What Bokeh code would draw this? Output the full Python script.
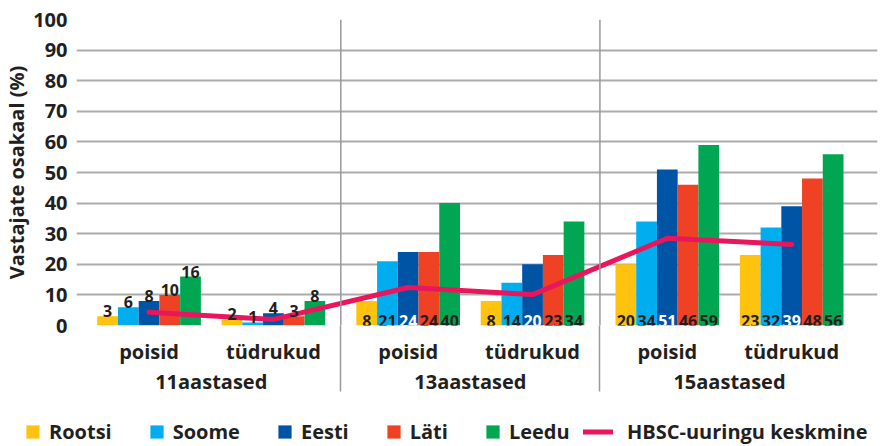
from bokeh.plotting import figure
from bokeh.models import (Range1d, FixedTicker, LinearAxis, Span, ColumnDataSource,
                          Legend, LegendItem)
from bokeh.layouts import column, row
from bokeh.embed import file_html
from bokeh.resources import INLINE

# ---------------- data ----------------
age_groups = ["11aastased", "13aastased", "15aastased"]
genders = ["poisid", "tüdrukud"]
countries = ["Rootsi", "Soome", "Eesti", "Läti", "Leedu"]

# order: 11 poisid, 11 tüdrukud, 13 poisid, 13 tüdrukud, 15 poisid, 15 tüdrukud
rootsi = [3, 2, 8, 8, 20, 23]
soome = [6, 1, 21, 14, 34, 32]
eesti = [8, 4, 24, 20, 51, 39]
lati = [10, 3, 24, 23, 46, 48]
leedu = [16, 8, 40, 34, 59, 56]
hbsc_mean = [4.3, 2.0, 12.4, 10.1, 28.5, 26.5]
line_name = "HBSC-uuringu keskmine"

y_ticks = [0, 10, 20, 30, 40, 50, 60, 70, 80, 90, 100]
y_title = "Vastajate osakaal (%)"

# ---------------- style ----------------
FONT = "Open Sans"
TXT = "#231F20"
GRID = "#ABABAB"
SEP = "#9A9A9A"
colors = ["#FFC20E", "#00AEEF", "#0054A6", "#EF4123", "#00A651"]
inside_text_colors = [TXT, TXT, "#FFFFFF", TXT, TXT]
line_color = "#E8175D"

series = [rootsi, soome, eesti, lati, leedu]

SUB_STEP = 6.0
GROUP_GAP = 0.5
BAR_W = 1.0

n_sub = len(age_groups) * len(genders)
centers = [k * SUB_STEP + (k // len(genders)) * GROUP_GAP for k in range(n_sub)]
sub_labels = [genders[k % len(genders)] for k in range(n_sub)]
group_centers = [sum(centers[g * 2:(g + 1) * 2]) / 2 for g in range(len(age_groups))]
separators = [(centers[2 * g + 1] + centers[2 * g + 2]) / 2 for g in range(len(age_groups) - 1)]
labels_inside = [(k // len(genders)) > 0 for k in range(n_sub)]

p = figure(width=882, height=397, output_backend="svg", toolbar_location=None,
           x_range=Range1d(-3.5, 35.14), y_range=Range1d(0, 100),
           x_axis_location=None, min_border_left=76, min_border_right=5,
           min_border_top=19, min_border_bottom=0, outline_line_color=None)

p.xgrid.visible = False
p.ygrid.ticker = FixedTicker(ticks=y_ticks)
p.ygrid.grid_line_color = GRID
p.ygrid.grid_line_width = 2

ya = p.yaxis[0]
ya.ticker = FixedTicker(ticks=y_ticks)
ya.axis_line_color = None
ya.major_tick_line_color = None
ya.minor_tick_line_color = None
ya.major_label_text_font = FONT
ya.major_label_text_font_size = "20px"
ya.major_label_text_font_style = "bold"
ya.major_label_text_color = TXT
ya.major_label_standoff = 3
ya.axis_label = y_title
ya.axis_label_text_font = FONT
ya.axis_label_text_font_size = "20px"
ya.axis_label_text_font_style = "bold"
ya.axis_label_text_color = TXT
ya.axis_label_standoff = 0

for s in separators:
    p.add_layout(Span(location=s, dimension="height", line_color=SEP, line_width=1.5))

# bars + labels
sources = []
for j, (name, vals, col) in enumerate(zip(countries, series, colors)):
    xs = [c + (j - 2) * BAR_W for c in centers]
    src = ColumnDataSource(dict(
        x=xs, top=vals,
        ty=[0 if ins else v for v, ins in zip(vals, labels_inside)],
        txt=[str(v) for v in vals],
        tc=[inside_text_colors[j] if ins else TXT for ins in labels_inside],
    ))
    p.vbar(x="x", top="top", width=BAR_W, source=src, fill_color=col, line_color=None)
    sources.append(src)

p.line(centers, hbsc_mean, line_color=line_color, line_width=5, line_cap="round", line_join="round")

for src in sources:
    p.text(x="x", y="ty", text="txt", source=src, text_color="tc", text_align="center",
           text_baseline="alphabetic", y_offset=-5, text_font_size="16px",
           text_font_style="bold", text_font={"value": FONT})

# category axes (minor ticks of the first one continue the group separators)
ax1 = LinearAxis(ticker=FixedTicker(ticks=centers, minor_ticks=separators),
                 major_label_overrides={c: l for c, l in zip(centers, sub_labels)})
ax1.axis_line_color = None
ax1.major_tick_line_color = None
ax1.major_tick_out = 0
ax1.minor_tick_in = 0
ax1.minor_tick_out = 66
ax1.minor_tick_line_color = SEP
ax1.minor_tick_line_width = 1.5
ax1.major_label_standoff = -54
ax1.major_label_text_font = FONT
ax1.major_label_text_font_size = "20px"
ax1.major_label_text_font_style = "bold"
ax1.major_label_text_color = TXT
p.add_layout(ax1, "below")

ax2 = LinearAxis(ticker=FixedTicker(ticks=group_centers),
                 major_label_overrides={c: l for c, l in zip(group_centers, age_groups)})
ax2.axis_line_color = None
ax2.major_tick_line_color = None
ax2.minor_tick_line_color = None
ax2.major_tick_out = 0
ax2.major_label_standoff = 0
ax2.major_label_text_font = FONT
ax2.major_label_text_font_size = "20px"
ax2.major_label_text_font_style = "bold"
ax2.major_label_text_color = TXT
p.add_layout(ax2, "below")

# ---------------- legend figure ----------------
p2 = figure(width=882, height=49, output_backend="svg", toolbar_location=None,
            x_range=Range1d(0, 1), y_range=Range1d(0, 1),
            x_axis_location=None, y_axis_location=None,
            min_border=0, min_border_left=0, min_border_right=0,
            min_border_top=0, min_border_bottom=0,
            outline_line_color=None)
p2.grid.visible = False

# proxy renderers (kept outside the visible range) only feed the legend
items1 = []
for name, col in zip(countries, colors):
    r = p2.scatter(x=[5], y=[5], marker="square", size=13, fill_color=col, line_color=None)
    items1.append(LegendItem(label=name, renderers=[r]))
rl = p2.line(x=[5, 6], y=[5, 5], line_color=line_color, line_width=5, line_cap="round")
items2 = [LegendItem(label=line_name, renderers=[rl])]

common = dict(orientation="horizontal", padding=0, margin=0, border_line_color=None,
              background_fill_alpha=0, label_text_font=FONT, label_text_font_size="20px",
              label_text_font_style="bold", label_text_color=TXT, label_height=33,
              glyph_height=33)
leg1 = Legend(items=items1, location=(16, -2), glyph_width=33, label_standoff=-3, spacing=28, **common)
leg2 = Legend(items=items2, location=(583, -2), glyph_width=30, label_standoff=14, spacing=0, **common)
p2.add_layout(leg1)
p2.add_layout(leg2)

layout = column(p, row(p2), spacing=0)
open("out.html", "w").write(file_html(layout, INLINE))
